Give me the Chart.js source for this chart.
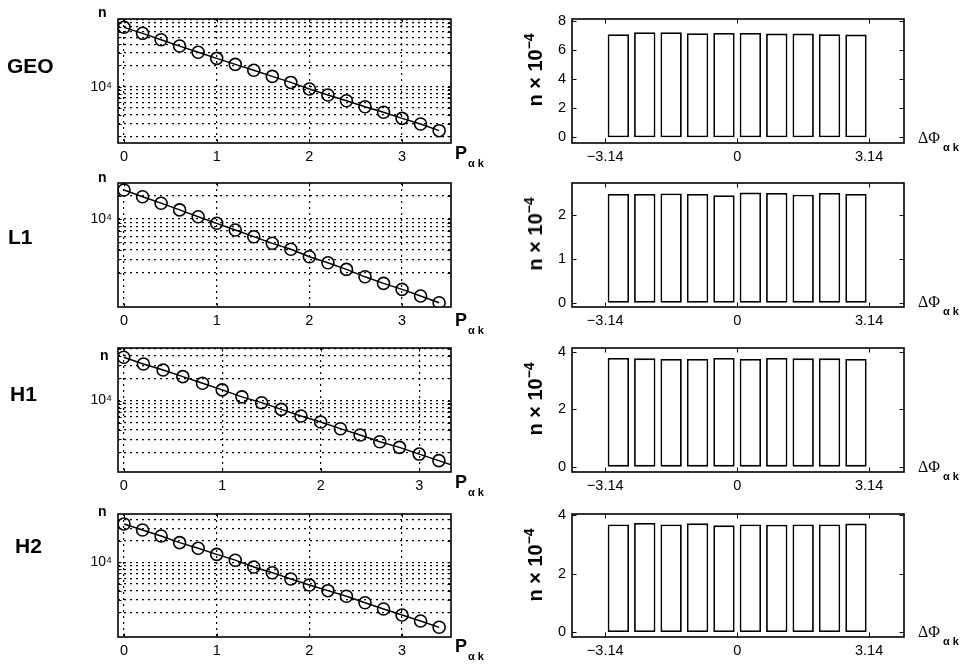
<!DOCTYPE html>
<html>
<head>
<meta charset="utf-8">
<script src="https://cdn.jsdelivr.net/npm/chart.js@4.4.1/dist/chart.umd.min.js"></script>
<style>
html,body{margin:0;padding:0;background:#fff;}
body{width:966px;height:666px;position:relative;overflow:hidden;font-family:"Liberation Sans",Arial,Helvetica,sans-serif;color:#000;}
canvas{position:absolute;}
.lbl{position:absolute;white-space:nowrap;line-height:1;}
.row{font-weight:bold;font-size:21px;}
.n{font-weight:bold;font-size:14px;}
.p{font-weight:bold;font-size:18px;}
.p .s{font-size:11px;position:relative;top:8px;margin-left:1px;}
.phi{font-family:"Liberation Serif","DejaVu Serif",serif;font-size:16px;}
.phi .s{font-family:"Liberation Sans",Arial,sans-serif;font-weight:bold;font-size:11px;position:relative;top:8px;margin-left:3px;}
.ylab{font-weight:bold;font-size:20px;line-height:20px;transform:translate(-50%,-50%) rotate(-90deg);}
.ylab sup{font-size:14px;line-height:0;vertical-align:8px;}
</style>
</head>
<body>
<script>
// ---------------- data ----------------
const rowNames = ['GEO', 'L1', 'H1', 'H2'];

// left panels: n versus P_alpha_k (log scale)
const pValues = [0, 0.2, 0.4, 0.6, 0.8, 1.0, 1.2, 1.4, 1.6, 1.8, 2.0, 2.2, 2.4, 2.6, 2.8, 3.0, 3.2, 3.4];
const nGEO = [69200, 56900, 46200, 37600, 30700, 25200, 20700, 17100, 14000, 11500, 9280, 7630, 6340, 5210, 4350, 3570, 2970, 2390];
const nL1  = [23700, 19400, 16000, 13100, 10700, 8800, 7210, 5900, 4850, 4060, 3250, 2720, 2230, 1790, 1470, 1230, 1010, 826];
const nH1  = [38400, 31100, 25800, 21000, 17100, 13900, 11200, 9340, 7600, 6180, 5120, 4160, 3420, 2770, 2330, 1890, 1540, 1250];
const nH2  = [34200, 28200, 23300, 18800, 15700, 12900, 10700, 8600, 7160, 5850, 4820, 4020, 3360, 2730, 2230, 1840, 1520, 1240];
const pTicks = [0, 1, 2, 3];
const logTicksGEO = [2000, 3000, 4000, 5000, 6000, 7000, 8000, 9000, 10000, 20000, 30000, 40000, 50000, 60000, 70000, 80000, 90000];
const logTicksL1  = [2000, 3000, 4000, 5000, 6000, 7000, 8000, 9000, 10000, 20000];
const logTicksH1  = [2000, 3000, 4000, 5000, 6000, 7000, 8000, 9000, 10000, 20000, 30000, 40000, 50000];
const logTicksH2  = [2000, 3000, 4000, 5000, 6000, 7000, 8000, 9000, 10000, 20000, 30000, 40000];
const logTickLabels = {10000: '10\u2074'};

// right panels: histogram of delta Phi_alpha_k (n x 10^-4)
const phiCenters = [-2.827, -2.199, -1.571, -0.942, -0.314, 0.314, 0.942, 1.571, 2.199, 2.827];
const barGEO = [7.06, 7.20, 7.20, 7.13, 7.15, 7.15, 7.11, 7.11, 7.06, 7.04];
const barL1  = [2.49, 2.49, 2.50, 2.49, 2.46, 2.52, 2.51, 2.47, 2.51, 2.49];
const barH1  = [3.78, 3.77, 3.75, 3.75, 3.78, 3.75, 3.78, 3.77, 3.77, 3.75];
const barH2  = [3.69, 3.74, 3.69, 3.73, 3.66, 3.69, 3.68, 3.69, 3.69, 3.72];
const barTicksGEO = [0, 2, 4, 6, 8];
const barTicksL1  = [0, 1, 2];
const barTicksH1  = [0, 2, 4];
const barTicksH2  = [0, 2, 4];
const phiTicks = [-3.14, 0, 3.14];
const phiTickLabels = ['\u22123.14', '0', '3.14'];

const nSeries = [nGEO, nL1, nH1, nH2];
const logTicks = [logTicksGEO, logTicksL1, logTicksH1, logTicksH2];
const barSeries = [barGEO, barL1, barH1, barH2];
const barTicks = [barTicksGEO, barTicksL1, barTicksH1, barTicksH2];

// ---------------- layout ----------------
const layout = [
  {top: 19,  bottom: 143, nLog: [1600, 90700], pRange: [-0.065, 3.528], barRange: [-0.39, 8.11],  nameX: 7,  nameY: 65,    nX: 98,  nBase: 16.7,  pBase: 159},
  {top: 183, bottom: 307, nLog: [728, 29200],  pRange: [-0.065, 3.528], barRange: [-0.098, 2.74], nameX: 8,  nameY: 236.7, nX: 98,  nBase: 181.7, pBase: 326},
  {top: 348, bottom: 472, nLog: [1082, 51200], pRange: [-0.058, 3.323], barRange: [-0.186, 4.13], nameX: 10, nameY: 393.5, nX: 100, nBase: 360,   pBase: 488},
  {top: 514, bottom: 637, nLog: [908, 47200],  pRange: [-0.065, 3.528], barRange: [-0.17, 4.05],  nameX: 15, nameY: 545.5, nX: 98,  nBase: 515.7, pBase: 652}
];
const phiRange = [-3.93, 3.97];
const PAD_T = 20, AX_H = 30;
const LX0 = 40, LBOX_L = 118, LBOX_R = 451, LX1 = 480;
const RX0 = 490, RBOX_L = 572, RBOX_R = 904, RX1 = 966;

Chart.defaults.font.family = '"Liberation Sans", Arial, Helvetica, sans-serif';
Chart.defaults.color = '#000';

const framePlugin = {
  id: 'frame',
  afterDraw(chart, args, opts) {
    const ctx = chart.ctx, a = chart.chartArea;
    const xs = chart.scales.x, ys = chart.scales.y;
    const L = opts.len || 4;
    const l = Math.round(a.left) + 0.5, r = Math.round(a.right) - 0.5;
    const t = Math.round(a.top) + 0.5, b = Math.round(a.bottom) - 0.5;
    ctx.save();
    ctx.strokeStyle = '#000';
    ctx.lineWidth = 1;
    ctx.beginPath();
    xs.ticks.forEach(tk => {
      const p = Math.round(xs.getPixelForValue(tk.value)) + 0.5;
      ctx.moveTo(p, b); ctx.lineTo(p, b - L);
      ctx.moveTo(p, t); ctx.lineTo(p, t + L);
    });
    ys.ticks.forEach(tk => {
      const p = Math.round(ys.getPixelForValue(tk.value)) + 0.5;
      ctx.moveTo(l, p); ctx.lineTo(l + L, p);
      ctx.moveTo(r, p); ctx.lineTo(r - L, p);
    });
    ctx.stroke();
    ctx.lineWidth = 1.6;
    ctx.strokeRect(Math.round(a.left), Math.round(a.top), Math.round(a.right - a.left), Math.round(a.bottom - a.top));
    ctx.restore();
  }
};

function addCanvas(x, y, w, h) {
  const c = document.createElement('canvas');
  c.width = w; c.height = h;
  c.style.left = x + 'px'; c.style.top = y + 'px';
  c.style.width = w + 'px'; c.style.height = h + 'px';
  document.body.appendChild(c);
  return c;
}
function addLabel(cls, x, y, html) {
  const d = document.createElement('div');
  d.className = 'lbl ' + cls;
  d.style.left = x + 'px'; d.style.top = y + 'px';
  d.innerHTML = html;
  document.body.appendChild(d);
  return d;
}

const gridDotted = {color: '#000', lineWidth: 1.2, drawTicks: false};
const borderDotted = {display: false, dash: [2, 4]};

rowNames.forEach((name, i) => {
  const L = layout[i];
  const h = L.bottom - L.top + PAD_T + AX_H;

  // ----- left: log line chart -----
  const c1 = addCanvas(LX0, L.top - PAD_T, LX1 - LX0, h);
  new Chart(c1, {
    type: 'line',
    data: {datasets: [{
      data: pValues.map((p, k) => ({x: p, y: nSeries[i][k]})),
      borderColor: '#000', borderWidth: 1.4, tension: 0,
      pointRadius: 6, pointHoverRadius: 6, pointBorderWidth: 1.6,
      pointBackgroundColor: 'rgba(255,255,255,0)', pointBorderColor: '#000',
      clip: 0
    }]},
    options: {
      responsive: false, animation: false, events: [],
      layout: {padding: {top: PAD_T, right: LX1 - LBOX_R, left: 0, bottom: 0}},
      plugins: {legend: {display: false}, tooltip: {enabled: false}, frame: {len: 3}},
      scales: {
        x: {
          type: 'linear', min: L.pRange[0], max: L.pRange[1],
          afterBuildTicks: s => { s.ticks = pTicks.map(v => ({value: v})); },
          afterFit: s => { s.height = AX_H; },
          grid: gridDotted, border: borderDotted,
          ticks: {autoSkip: false, maxRotation: 0, padding: 5.5, color: '#000', font: {size: 14.5}, callback: v => String(v)}
        },
        y: {
          type: 'logarithmic', min: L.nLog[0], max: L.nLog[1],
          afterBuildTicks: s => { s.ticks = logTicks[i].map(v => ({value: v})); },
          afterFit: s => { s.width = LBOX_L - LX0; },
          grid: gridDotted, border: borderDotted,
          ticks: {autoSkip: false, padding: 6, color: '#000', font: {size: 14}, callback: v => logTickLabels[v] || ''}
        }
      }
    },
    plugins: [framePlugin]
  });

  // ----- right: histogram bars -----
  const c2 = addCanvas(RX0, L.top - PAD_T, RX1 - RX0, h);
  new Chart(c2, {
    type: 'bar',
    data: {datasets: [{
      data: phiCenters.map((c, k) => ({x: c, y: barSeries[i][k]})),
      backgroundColor: '#fff', borderColor: '#000', borderWidth: 1.8, borderSkipped: false,
      barPercentage: 0.81, categoryPercentage: 1
    }]},
    options: {
      responsive: false, animation: false, events: [],
      layout: {padding: {top: PAD_T, right: RX1 - RBOX_R, left: 0, bottom: 0}},
      plugins: {legend: {display: false}, tooltip: {enabled: false}, frame: {len: 4}},
      scales: {
        x: {
          type: 'linear', offset: false, min: phiRange[0], max: phiRange[1],
          afterBuildTicks: s => { s.ticks = phiTicks.map(v => ({value: v})); },
          afterFit: s => { s.height = AX_H; },
          grid: {display: false, drawTicks: false, offset: false}, border: {display: false},
          ticks: {autoSkip: false, maxRotation: 0, padding: 5.5, color: '#000', font: {size: 14.5},
                  callback: v => phiTickLabels[phiTicks.indexOf(v)]}
        },
        y: {
          type: 'linear', min: L.barRange[0], max: L.barRange[1],
          afterBuildTicks: s => { s.ticks = barTicks[i].map(v => ({value: v})); },
          afterFit: s => { s.width = RBOX_L - RX0; },
          grid: {display: false, drawTicks: false}, border: {display: false},
          ticks: {autoSkip: false, padding: 6, color: '#000', font: {size: 14.5}, callback: v => String(v)}
        }
      }
    },
    plugins: [framePlugin]
  });

  // ----- text labels -----
  addLabel('row', L.nameX, L.nameY - 10.3, name);
  addLabel('n', L.nX, L.nBase - 11.85, 'n');
  addLabel('p', 455, L.pBase - 15.2, 'P<span class="s">\u03b1 k</span>');
  addLabel('phi', 918, L.bottom - 13.4, '\u0394\u03a6<span class="s">\u03b1 k</span>');
  addLabel('ylab', 535, (L.top + L.bottom) / 2 - 11, 'n \u00d7 10<sup>\u22124</sup>');
});
</script>
</body>
</html>
